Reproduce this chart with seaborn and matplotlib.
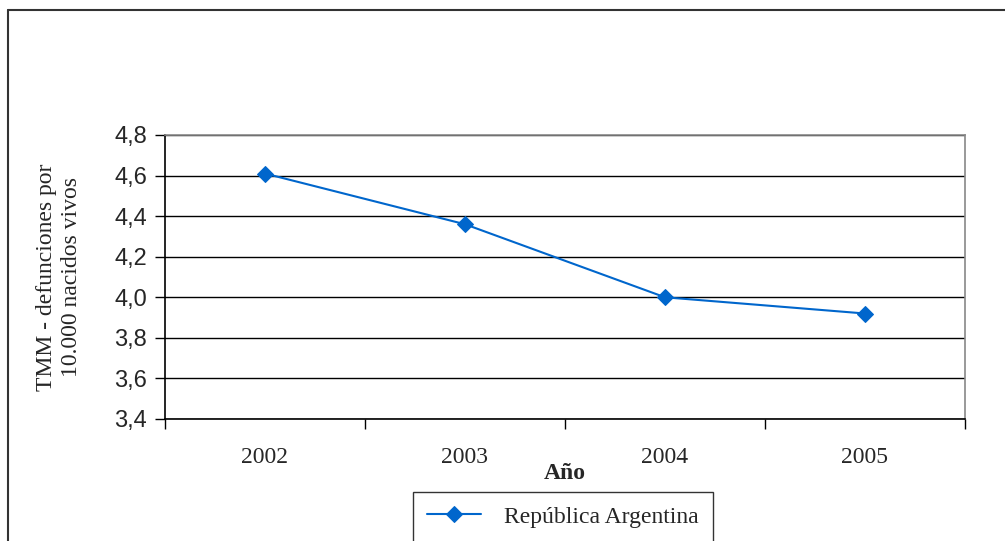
import pandas as pd
import seaborn as sns
from matplotlib import pyplot as plt
from matplotlib.ticker import FixedLocator, FuncFormatter
from matplotlib.lines import Line2D

years = [2002, 2003, 2004, 2005]
tmm = [4.61, 4.36, 4.00, 3.92]
serie = "República Argentina"
y_label = "TMM - defunciones por\n10.000 nacidos vivos"
x_label = "Año"

df = pd.DataFrame({"Año": years, "TMM": tmm})

sns.set_style("white")
plt.rcParams["font.family"] = ["Liberation Serif", "DejaVu Serif"]

fig = plt.figure(figsize=(10.05, 5.41), dpi=100)
ax = fig.add_axes([165 / 1005, 1 - 419 / 541, 800 / 1005, 284 / 541])

blue = "#0066CC"
sns.lineplot(data=df, x="Año", y="TMM", ax=ax, color=blue, linewidth=1.5,
             marker="D", markersize=8, markeredgecolor=blue, label=serie)

# y axis
ax.set_ylim(3.4, 4.8)
ax.set_yticks([3.4, 3.6, 3.8, 4.0, 4.2, 4.4, 4.6, 4.8])
ax.yaxis.set_major_formatter(FuncFormatter(lambda v, p: f"{v:.1f}".replace(".", ",")))
for lab in ax.get_yticklabels():
    lab.set_fontfamily(["Liberation Sans", "DejaVu Sans"])
ax.tick_params(axis="y", direction="out", length=7, width=1, color="black",
               labelsize=17, pad=6, left=True)
ax.grid(axis="y", color="black", linewidth=1)
ax.set_axisbelow(True)

# x axis: ticks between categories, labels at centres
ax.set_xlim(years[0] - 0.5, years[-1] + 0.5)
ax.xaxis.set_major_locator(FixedLocator([y - 0.5 for y in years] + [years[-1] + 0.5]))
ax.xaxis.set_minor_locator(FixedLocator(years))
ax.set_xticklabels([], minor=False)
ax.set_xticklabels([str(y) for y in years], minor=True)
ax.tick_params(axis="x", which="major", direction="out", length=7, width=1,
               color="black", bottom=True)
ax.tick_params(axis="x", which="minor", length=0, labelsize=17, pad=20)

ax.set_xlabel(x_label, fontsize=17, fontweight="bold")
ax.xaxis.set_label_coords(0.5, -0.155)
ax.set_ylabel(y_label, fontsize=17, va="center", linespacing=1.3)
ax.yaxis.set_label_coords(-0.1325, 0.5)

for side in ["top", "right"]:
    ax.spines[side].set_color("#888888")
    ax.spines[side].set_linewidth(1.2)
for side in ["left", "bottom"]:
    ax.spines[side].set_color("black")
    ax.spines[side].set_linewidth(1.2)

leg = ax.legend(loc="upper left", bbox_to_anchor=(413 / 1005, 1 - 492 / 541),
                bbox_transform=fig.transFigure, fontsize=17, frameon=True,
                fancybox=False, edgecolor="#333333", framealpha=1,
                handlelength=2.3, handletextpad=0.95, borderpad=0.6, borderaxespad=0)
leg.get_frame().set_linewidth(1)

# outer chart border (left and top visible)
fig.add_artist(Line2D([8 / 1005, 8 / 1005], [0, 1 - 10 / 541], transform=fig.transFigure,
                      color="#333333", linewidth=1.5))
fig.add_artist(Line2D([8 / 1005, 1], [1 - 10 / 541, 1 - 10 / 541], transform=fig.transFigure,
                      color="#333333", linewidth=1.5))

fig.savefig("out.png", dpi=100)
